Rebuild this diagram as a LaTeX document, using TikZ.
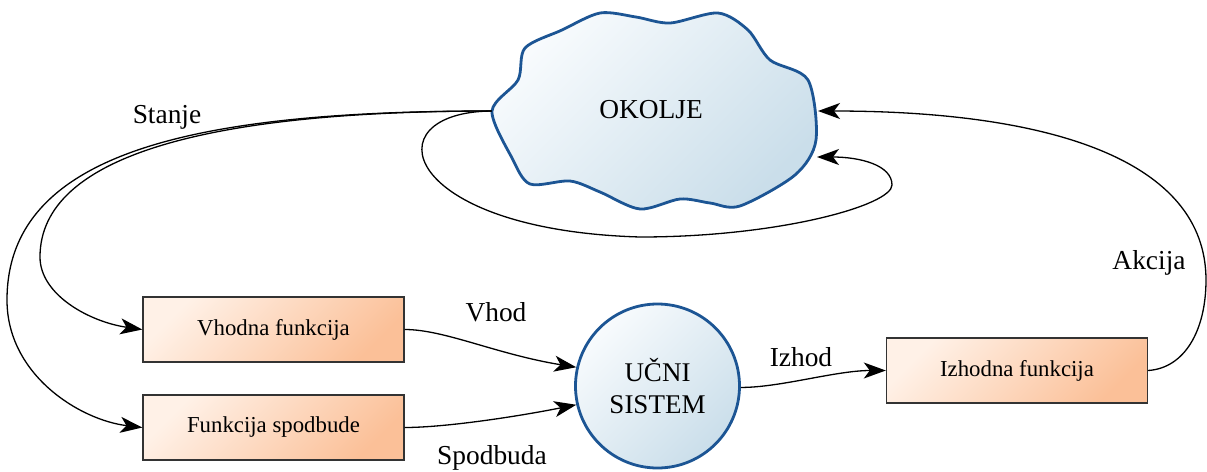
\documentclass[tikz,border=0pt]{standalone}
\usepackage{fontspec}
\setmainfont{Liberation Serif}
\usetikzlibrary{arrows.meta}
\definecolor{peachlight}{HTML}{FFF1E7}
\definecolor{peachdark}{HTML}{FBC098}
\definecolor{skylight}{HTML}{F8FBFD}
\definecolor{skydark}{HTML}{CADEEA}
\definecolor{rimblue}{HTML}{1C5594}
\tikzset{
  funkcija/.style={draw=black!80,line width=0.7pt,top color=peachlight,bottom color=peachdark,shading angle=45,
    minimum width=130.5pt,minimum height=32.5pt,inner sep=0pt,font=\fontsize{11.4}{13}\selectfont},
  sistem/.style={circle,draw=rimblue,line width=1.4pt,top color=skylight,bottom color=skydark,shading angle=45,
    minimum size=82pt,inner sep=0pt,align=center,font=\fontsize{13.5}{16}\selectfont},
  oblak/.style={draw=rimblue,line width=1.4pt,top color=skylight,bottom color=skydark,shading angle=45},
  oznaka/.style={font=\fontsize{13.7}{16}\selectfont},
  veza/.style={->,line width=0.65pt}
}
\newcommand{\pth}[3]{\draw[veza] (#1) .. controls +(40,0) and +(#2) .. (#3);}

\begin{document}
\begin{tikzpicture}[x=0.5pt,y=-0.5pt,>={Stealth[length=11pt,width=8pt,inset=3pt]},node distance=49pt]
  \useasboundingbox (0,0) rectangle (1207,472);
  % okolje
  \draw[oblak] plot[smooth cycle,tension=0.5] coordinates {
    (492,111) (518,80) (525,48) (562,30) (600,13) (636,17) (670,23) (718,13)
    (748,30) (770,60) (808,80) (816,140) (795,175) (740,206) (710,203) (680,199)
    (640,209) (600,192) (570,181) (530,184) (512,158)};
  \node[oznaka] (okolje) at (651,110) {OKOLJE};
  \coordinate (okl) at (491.7,111);
  \coordinate (okr) at (818,111);
  \coordinate (okr2) at (817,157);

  \node[funkcija] (vhod) at (273.5,329.5) {Vhodna funkcija};
  \node[funkcija] (spod) [below of=vhod] {Funkcija spodbude};
  \node[sistem] (ucni) at (657.5,386) {UČNI\\SISTEM};
  \node[funkcija] (izh) at (1017,370.5) {Izhodna funkcija};

  \node[oznaka] (stanje) at (167,117) {Stanje};
  \node[oznaka] (lvhod) at (496,312) {Vhod};
  \node[oznaka] (lspod) at (492,458) {Spodbuda};
  \node[oznaka] (lizh) at (801,357) {Izhod};
  \node[oznaka] (akcija) at (1149,263) {Akcija};

  % stanje
  \draw[veza] (okl) .. controls (210,111) and (40,155) .. (40,257) .. controls (40,295) and (90,322) .. (vhod.west);
  \draw[veza] (okl) .. controls (200,111) and (7,150) .. (7,300) .. controls (7,375) and (80,420) .. (spod.west);
  \draw[veza] (okl) .. controls (370,112) and (400,230) .. (640,237) .. controls (780,237) and (892,205) .. (892,185)
    .. controls (892,165) and (860,157) .. (okr2);
  % akcija
  \draw[veza] (izh.east) .. controls (1185,368) and (1206,330) .. (1206,280) .. controls (1206,160) and (1050,111) .. (okr);

  \pth{vhod.east}{-80,-13}{ucni.167}
  \pth{spod.east}{-60,12}{ucni.193}
  \pth{ucni.-1}{-50,0}{izh.west}
\end{tikzpicture}
\end{document}
